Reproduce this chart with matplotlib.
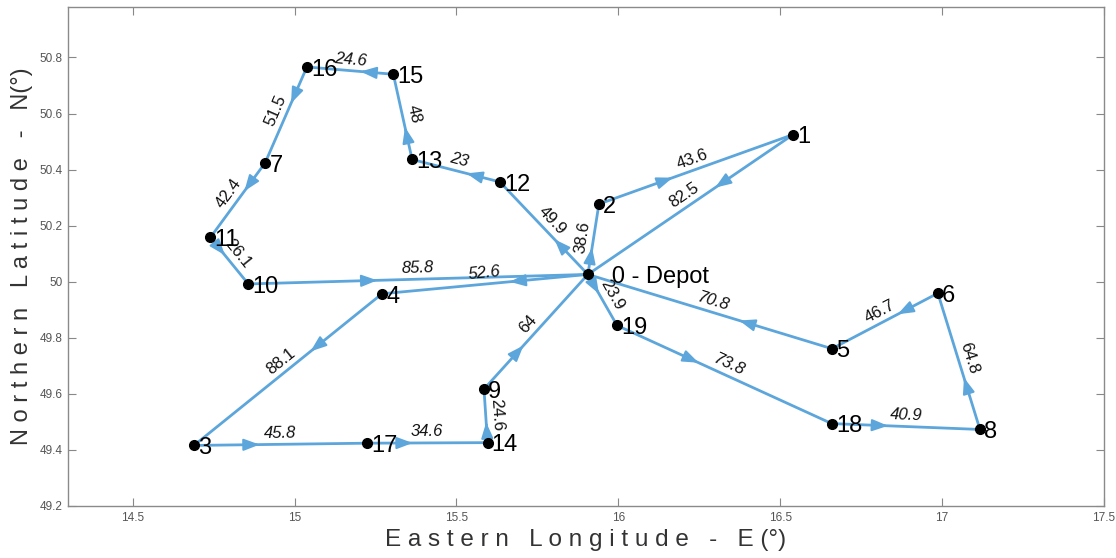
import numpy as np
import matplotlib
matplotlib.use('Agg')
import matplotlib.pyplot as plt

plt.rcParams['font.family'] = ['Liberation Sans', 'DejaVu Sans']

# node coordinates (lon E, lat N)
names = ['   0 - Depot', '1', '2', '3', '4', '5', '6', '7', '8', '9',
         '10', '11', '12', '13', '14', '15', '16', '17', '18', '19']
lon = [15.906, 16.540, 15.940, 14.689, 15.270, 16.660, 16.987, 14.909, 17.117, 15.585,
       14.857, 14.740, 15.634, 15.363, 15.596, 15.305, 15.038, 15.223, 16.659, 15.996]
lat = [50.026, 50.525, 50.277, 49.416, 49.957, 49.761, 49.959, 50.424, 49.473, 49.617,
       49.992, 50.158, 50.356, 50.436, 49.426, 50.740, 50.766, 49.424, 49.494, 49.844]

# routes (node order) and distance of each leg
routes = [[0, 2, 1, 0],
          [0, 12, 13, 15, 16, 7, 11, 10, 0],
          [0, 4, 3, 17, 14, 9, 0],
          [0, 19, 18, 8, 6, 5, 0]]
dists = [[38.6, 43.6, 82.5],
         [49.9, 23, 48, 24.6, 51.5, 42.4, 26.1, 85.8],
         [52.6, 88.1, 45.8, 34.6, 24.6, 64],
         [23.9, 73.8, 40.9, 64.8, 46.7, 70.8]]

xticks = [14.5, 15, 15.5, 16, 16.5, 17, 17.5]
yticks = [49.2, 49.4, 49.6, 49.8, 50, 50.2, 50.4, 50.6, 50.8]

col = '#5DA6DB'
fig = plt.figure(figsize=(11.16, 5.58), dpi=100)
ax = fig.add_axes([0.0609, 0.0932, 0.9283, 0.8943])
ax.set_xlim(14.3, 17.5)
ax.set_ylim(49.2, 50.98)

for r, d in zip(routes, dists):
    for k in range(len(r) - 1):
        a, b = r[k], r[k + 1]
        x0, y0, x1, y1 = lon[a], lat[a], lon[b], lat[b]
        ax.plot([x0, x1], [y0, y1], color=col, lw=2, zorder=2)
        # arrow head part way along the leg
        t = 0.38
        tip = (x0 + t * (x1 - x0), y0 + t * (y1 - y0))
        back = (x0 + (t - 0.05) * (x1 - x0), y0 + (t - 0.05) * (y1 - y0))
        ax.annotate('', xy=tip, xytext=back,
                    arrowprops=dict(arrowstyle='-|>,head_length=0.8,head_width=0.3',
                                    color=col, lw=1.5, mutation_scale=12, shrinkA=0, shrinkB=0),
                    zorder=3)
        # distance label along the leg
        p0 = ax.transData.transform((x0, y0))
        p1 = ax.transData.transform((x1, y1))
        ang = np.degrees(np.arctan2(p1[1] - p0[1], p1[0] - p0[0]))
        if ang > 90:
            ang -= 180
        elif ang <= -90:
            ang += 180
        nx = -np.sin(np.radians(ang)) * 8
        ny = np.cos(np.radians(ang)) * 8
        style = 'italic' if -30 < ang < 17 else 'normal'
        ax.annotate('%g' % d[k], xy=((x0 + x1) / 2, (y0 + y1) / 2),
                    xytext=(nx, ny), textcoords='offset points',
                    rotation=ang, rotation_mode='anchor', ha='center', va='center',
                    fontsize=12, style=style, color='#111111', zorder=4)

ax.plot(lon, lat, 'o', color='black', markersize=7, zorder=5)
for n, x, y in zip(names, lon, lat):
    ax.annotate(n, xy=(x, y), xytext=(3, -2), textcoords='offset points',
                ha='left', va='center', fontsize=17, color='black', zorder=6)

ax.set_xticks(xticks)
ax.set_yticks(yticks)
ax.set_xticklabels(['%g' % v for v in xticks])
ax.set_yticklabels(['%g' % v for v in yticks])
ax.tick_params(direction='in', top=True, right=True, length=6, width=0.8,
               color='#888888', labelsize=8.5, labelcolor='#555555', pad=4)
for s in ax.spines.values():
    s.set_color('#8a8a8a')
    s.set_linewidth(1)

ax.set_xlabel(' '.join('Eastern Longitude - E') + ' (°)', fontsize=17.5, color='#333333', va='center')
ax.set_ylabel(' '.join('Northern Latitude - N') + '(°)', fontsize=17, color='#333333', va='center')
ax.xaxis.set_label_coords(0.5, -0.068)
ax.yaxis.set_label_coords(-0.044, 0.5)

fig.savefig('out.png', dpi=100)
